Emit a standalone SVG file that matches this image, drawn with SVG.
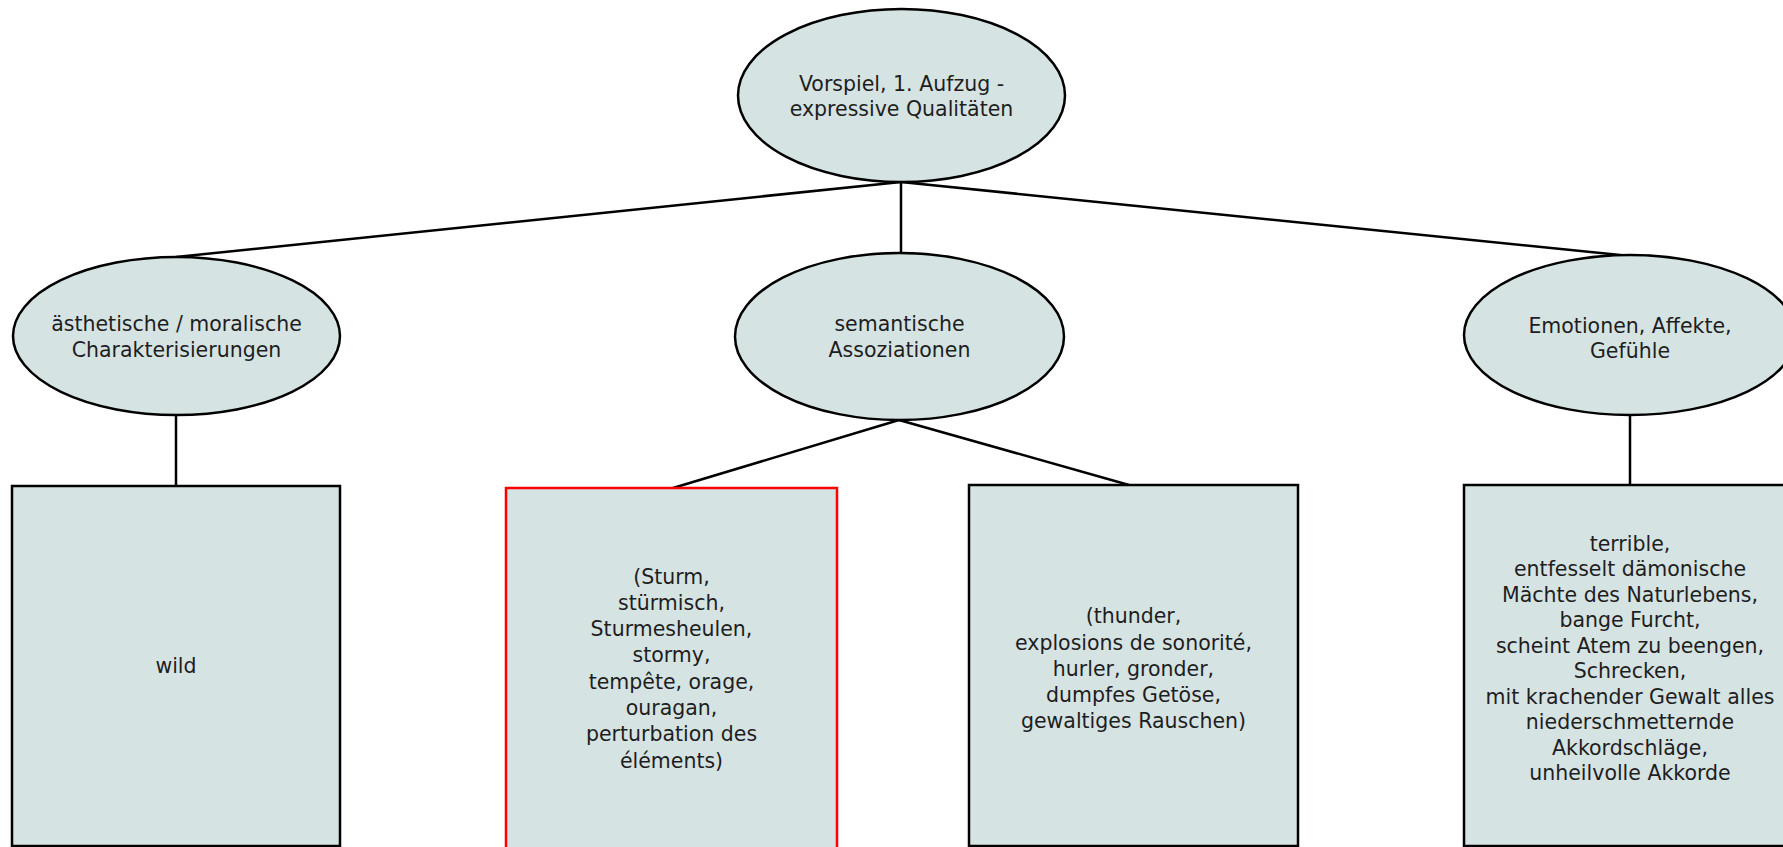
<svg xmlns="http://www.w3.org/2000/svg" width="1783" height="847" viewBox="0 0 1783 847">
<style>
.node{fill:#d6e3e3;stroke:#000;stroke-width:2.5}
.red{fill:#d6e3e3;stroke:#ff0000;stroke-width:2.5}
.edge{stroke:#000;stroke-width:2.5;fill:none}
text{font-family:"DejaVu Sans","Verdana",sans-serif;font-size:20.5px;fill:#1e1e1e;text-anchor:middle}
</style>
<rect width="1783" height="847" fill="#fff"/>
<g id="connectors">
<line class="edge" x1="901" y1="182" x2="176" y2="257"/>
<line class="edge" x1="901" y1="182" x2="901" y2="253"/>
<line class="edge" x1="901" y1="182" x2="1630" y2="256"/>
<line class="edge" x1="176" y1="415" x2="176" y2="486"/>
<line class="edge" x1="899" y1="420" x2="673" y2="488"/>
<line class="edge" x1="899" y1="420" x2="1129" y2="485"/>
<line class="edge" x1="1630" y1="415" x2="1630" y2="485"/>
</g>
<g id="root">
<ellipse class="node" cx="901.5" cy="95.5" rx="163.5" ry="86.5"/>
<text x="901.5" y="91">Vorspiel, 1. Aufzug -</text>
<text x="901.5" y="115.5">expressive Qualitäten</text>
</g>
<g id="aesthetic">
<ellipse class="node" cx="176.5" cy="336" rx="163.5" ry="79"/>
<text x="176.5" y="331">ästhetische / moralische</text>
<text x="176.5" y="356.5">Charakterisierungen</text>
</g>
<g id="semantic">
<ellipse class="node" cx="899.5" cy="336.5" rx="164.5" ry="83.5"/>
<text x="899.5" y="331">semantische</text>
<text x="899.5" y="356.5">Assoziationen</text>
</g>
<g id="emotions">
<ellipse class="node" cx="1630" cy="335" rx="166" ry="80"/>
<text x="1630" y="333">Emotionen, Affekte,</text>
<text x="1630" y="358">Gefühle</text>
</g>
<g id="wild">
<rect class="node" x="12" y="486" width="328" height="360"/>
<text x="176" y="673">wild</text>
</g>
<g id="sturm">
<rect class="red" x="506" y="488" width="331" height="362"/>
<text x="671.5" y="583.5">(Sturm,</text>
<text x="671.5" y="609.8">stürmisch,</text>
<text x="671.5" y="636.1">Sturmesheulen,</text>
<text x="671.5" y="662.4">stormy,</text>
<text x="671.5" y="688.7">tempête, orage,</text>
<text x="671.5" y="715">ouragan,</text>
<text x="671.5" y="741.3">perturbation des</text>
<text x="671.5" y="767.6">éléments)</text>
</g>
<g id="thunder">
<rect class="node" x="969" y="485" width="329" height="361"/>
<text x="1133.5" y="623.3">(thunder,</text>
<text x="1133.5" y="649.5">explosions de sonorité,</text>
<text x="1133.5" y="675.8">hurler, gronder,</text>
<text x="1133.5" y="702">dumpfes Getöse,</text>
<text x="1133.5" y="728.3">gewaltiges Rauschen)</text>
</g>
<g id="terrible">
<rect class="node" x="1464" y="485" width="332" height="361"/>
<text x="1630" y="550.7">terrible,</text>
<text x="1630" y="576.2">entfesselt dämonische</text>
<text x="1630" y="601.7">Mächte des Naturlebens,</text>
<text x="1630" y="627.2">bange Furcht,</text>
<text x="1630" y="652.7">scheint Atem zu beengen,</text>
<text x="1630" y="678.2">Schrecken,</text>
<text x="1630" y="703.7">mit krachender Gewalt alles</text>
<text x="1630" y="729.2">niederschmetternde</text>
<text x="1630" y="754.7">Akkordschläge,</text>
<text x="1630" y="780.2">unheilvolle Akkorde</text>
</g>
</svg>
